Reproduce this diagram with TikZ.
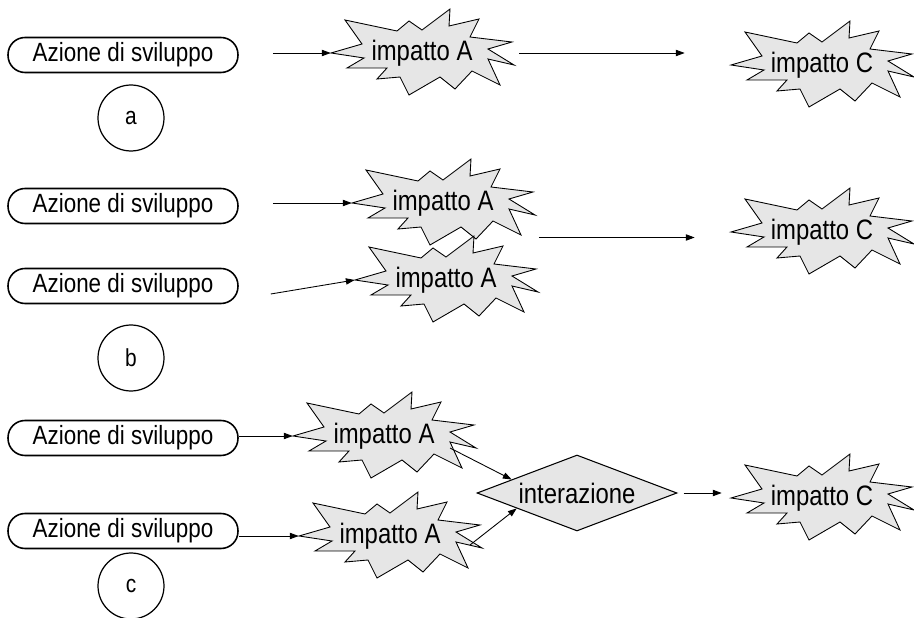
\documentclass[tikz,border=0pt]{standalone}
\usepackage{fontspec}
\newfontfamily\hel[FakeStretch=0.85]{Liberation Sans}
\usetikzlibrary{arrows.meta,calc,shapes.geometric}
\definecolor{burstgray}{RGB}{230,230,230}
\newcommand\burst[3]{%
  \filldraw[burstshape, shift={#2}] (-91,0) -- (-60,-9) -- (-77,-33) -- (-25,-22) -- (-13,-32) -- (0,-23) -- (28,-44) -- (27,-27) -- (57,-34) -- (48,-16) -- (90,-11) -- (66,-4) -- (92,12) -- (66,6) -- (78,32) -- (50,18) -- (33,36) -- (18,24) -- (-13,42) -- (-22,24) -- (-45,26) -- (-35,15) -- (-75,15) -- (-58,5) -- cycle;
  \node[bursttext] (#1) at #2 {#3};}
\begin{document}
\begin{tikzpicture}[x=0.02cm,y=-0.02cm,
  conn/.style={-{Triangle[length=5pt,width=3.6pt]}, line width=0.5pt},
  action/.style={draw, line width=0.9pt, rounded corners=0.34cm, minimum width=4.6cm, minimum height=0.7cm, inner sep=0pt, fill=white, font=\hel\fontsize{15}{17}\selectfont},
  tag/.style={draw, circle, line width=0.7pt, minimum size=1.32cm, inner sep=0pt, font=\hel\fontsize{14}{16}\selectfont},
  burstshape/.style={draw, fill=burstgray, line width=0.5pt, line join=miter},
  bursttext/.style={rectangle, minimum width=3.64cm, minimum height=1.7cm, inner sep=0pt, font=\hel\fontsize{16}{18}\selectfont},
  inter/.style={diamond, aspect=2.63, draw, fill=burstgray, line width=0.6pt, minimum width=4cm, minimum height=1.52cm, inner sep=0pt, font=\hel\fontsize{16}{18}\selectfont}]
\useasboundingbox (0,0) rectangle (914,618);

% ---- row a
\node[action] (ra) at (123,55) {Azione di sviluppo\hspace{0.2cm}};
\node[tag] (ta) at (131,118) {a};
\burst{Aa}{(422,53)}{impatto A}
\burst{Ca}{(822,65)}{impatto C}
\draw[conn] ($(ra.east |- Aa.west)+(34,0)$) -- (Aa.west);
\draw[conn] ($(Aa.east)+(6,0)$) -- ($(Ca.west |- Aa.east)+(-46,0)$);

% ---- row b
\node[action] (rb1) at (123,206) {Azione di sviluppo\hspace{0.2cm}};
\node[action] (rb2) at (123,286) {Azione di sviluppo\hspace{0.2cm}};
\node[tag] (tb) at (131,358) {b};
\burst{Ab1}{(443,203)}{impatto A}
\burst{Ab2}{(446,280)}{impatto A}
\burst{Cb}{(822,232)}{impatto C}
\draw[conn] ($(rb1.east |- Ab1.west)+(34,0)$) -- (Ab1.west);
\draw[conn] ($(rb2.east)+(32,8)$) -- (Ab2.west);
\coordinate (bm) at ($(Ab1.east)!0.5!(Ab2.east)+(3,-4)$);
\draw[conn] (bm) -- ($(Cb.west |- bm)+(-36,0)$);

% ---- row c
\node[action] (rc1) at (123,438) {Azione di sviluppo\hspace{0.2cm}};
\node[action] (rc2) at (123,531) {Azione di sviluppo\hspace{0.2cm}};
\node[tag] (tc) at (131,586) {c};
\burst{Ac1}{(384,436)}{impatto A}
\burst{Ac2}{(390,536)}{impatto A}
\node[inter] (dia) at (577,493) {interazione};
\burst{Cc}{(822,498)}{impatto C}
\draw[conn] (rc1.east |- Ac1.west) -- (Ac1.west);
\draw[conn] (rc2.east |- Ac2.west) -- (Ac2.west);
\draw[conn] ($(Ac1)+(66,12)$) -- ($(dia.west)!0.35!(dia.north)$);
\draw[conn] ($(Ac2)+(80,9)$) -- ($(dia.west)!0.4!(dia.south)$);
\draw[conn] ($(dia.east)+(6,0)$) -- ($(Cc.west |- dia.east)+(-9,0)$);
\end{tikzpicture}
\end{document}
